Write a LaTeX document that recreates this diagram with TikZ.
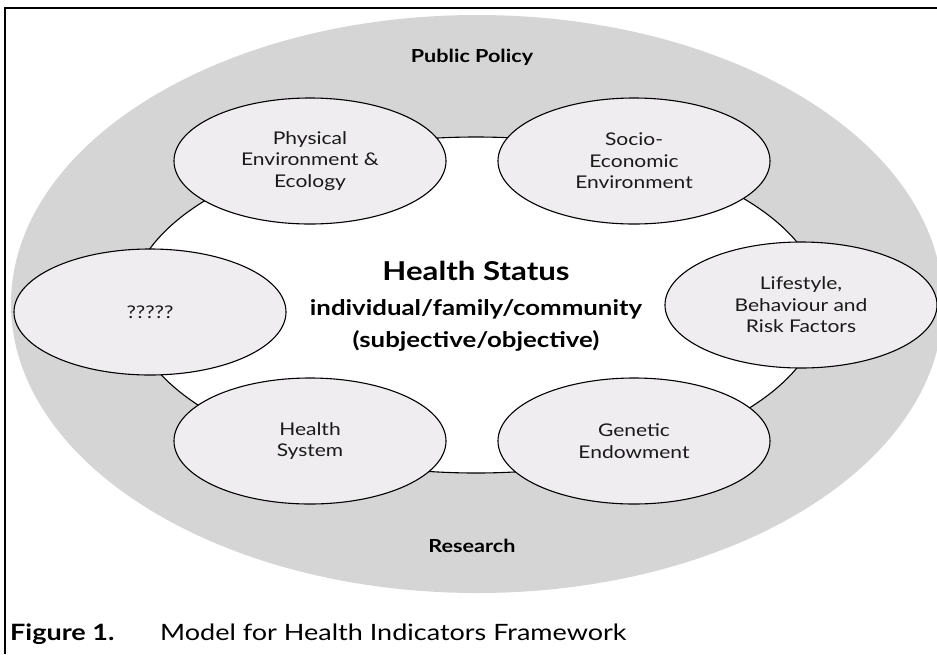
\documentclass[tikz,border=0pt]{standalone}
\usepackage{fontspec}
\setmainfont{Lato}[FakeStretch=1.2]
\usetikzlibrary{shapes.geometric}
\definecolor{ringgray}{HTML}{D6D5D6}
\definecolor{ovalfill}{HTML}{EFEDEF}
\definecolor{ink}{HTML}{1A1A1A}
\tikzset{
  factor/.style={ellipse, draw=black, line width=1.1pt, fill=ovalfill,
    minimum width=272pt, minimum height=126pt, inner sep=0pt,
    align=center, text=ink, font=\fontsize{17.5}{21.5}\selectfont},
  ringlabel/.style={font=\bfseries\fontsize{18}{21}\selectfont, text=black, anchor=base},
  statusline/.style={font=\bfseries\fontsize{21.5}{25}\selectfont, text=black, anchor=base},
}
\begin{document}
\begin{tikzpicture}[x=1pt,y=-1pt]
\useasboundingbox (0,0) rectangle (937,654);
\begin{scope}
\clip (0,0) rectangle (937,654);
\fill[ringgray] (477,304) ellipse [x radius=466, y radius=289];
\end{scope}
\draw[fill=white, line width=1.1pt] (476,305) ellipse [x radius=346, y radius=168];
\draw[line width=2pt] (5,654) -- (5,8) -- (937,8);

\node[ringlabel] (pp) at (472,62) {Public Policy};
\node[ringlabel] (rs) at (472,552) {Research};

\node[factor] (phys) at (310,161) {Physical\\Environment \&\\Ecology};
\node[factor] (socio) at (634,161) {Socio-\\Economic\\Environment};
\node[factor] (unk) at (150,312) {?????};
\node[factor] (life) at (801,305) {Lifestyle,\\Behaviour and\\Risk Factors};
\node[factor] (hsys) at (310,441) {Health\\System};
\node[factor] (gen) at (634,441) {Genetic\\Endowment};

\node[font=\bfseries\fontsize{26}{30}\selectfont, anchor=base] (hs) at (476,280) {Health Status};
\node[statusline] (ifc) at (476,315) {individual/family/community};
\node[statusline] (so) at (476,347) {(subjective/objective)};

\node[font=\bfseries\fontsize{22.5}{26}\selectfont, anchor=base west, inner sep=0pt] (fig) at (10,640) {Figure 1.};
\node[font=\fontsize{22.5}{26}\selectfont, anchor=base west, inner sep=0pt] (cap) at (160,640) {Model for Health Indicators Framework};
\end{tikzpicture}
\end{document}
